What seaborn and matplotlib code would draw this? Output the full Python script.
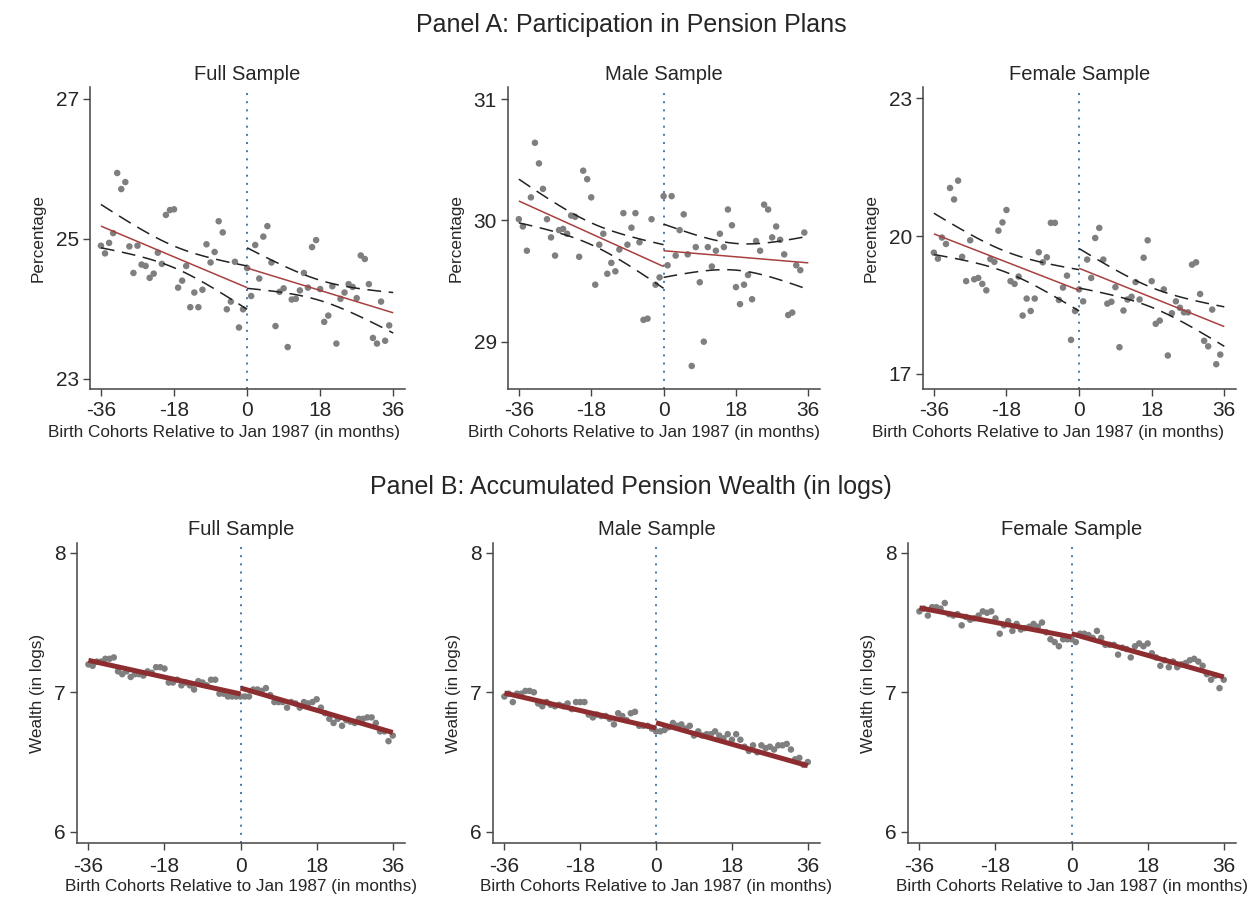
import numpy as np
import pandas as pd
import matplotlib
matplotlib.use("Agg")
import matplotlib.pyplot as plt
import seaborn as sns

# ---------------- data ----------------
x_left = list(range(-36, 0))          # 36 cohorts before cutoff
x_right_a = list(range(0, 36))        # panel A, after cutoff
x_right_b = list(range(0, 37))        # panel B, after cutoff

# Panel A: participation (%)
full_a_left = [24.90, 24.79, 24.94, 25.08, 25.94, 25.71, 25.81, 24.89, 24.51, 24.90,
               24.63, 24.61, 24.44, 24.50, 24.80, 24.64, 25.34, 25.41, 25.42, 24.30,
               24.40, 24.61, 24.02, 24.23, 24.02, 24.27, 24.92, 24.66, 24.81, 25.25,
               25.09, 23.99, 24.10, 24.67, 23.73, 23.99]
full_a_right = [24.58, 24.18, 24.91, 24.43, 25.03, 25.18, 24.66, 23.75, 24.24, 24.29,
                23.45, 24.13, 24.14, 24.26, 24.51, 24.30, 24.88, 24.98, 24.28, 23.81,
                23.90, 24.32, 23.50, 24.14, 24.23, 24.35, 24.31, 24.15, 24.76, 24.71,
                24.35, 23.58, 23.50, 24.10, 23.54, 23.76]

male_a_left = [30.01, 29.95, 29.75, 30.19, 30.64, 30.47, 30.26, 30.01, 29.86, 29.71,
               29.92, 29.93, 29.89, 30.04, 30.03, 29.70, 30.41, 30.34, 30.19, 29.47,
               29.80, 29.89, 29.56, 29.65, 29.58, 29.76, 30.06, 29.80, 29.94, 30.06,
               29.82, 29.18, 29.19, 30.01, 29.47, 29.53]
male_a_right = [30.20, 29.63, 30.20, 29.71, 29.92, 30.05, 29.72, 28.80, 29.78, 29.49,
                29.00, 29.78, 29.62, 29.75, 29.89, 29.78, 30.09, 29.96, 29.45, 29.31,
                29.47, 29.55, 29.35, 29.83, 29.75, 30.13, 30.09, 29.86, 29.95, 29.84,
                29.72, 29.22, 29.24, 29.63, 29.59, 29.90]

female_a_left = [19.64, 19.51, 19.97, 19.83, 21.05, 20.80, 21.21, 19.55, 19.02, 19.91,
                 19.06, 19.09, 18.96, 18.82, 19.50, 19.44, 20.12, 20.30, 20.57, 19.02,
                 18.96, 19.12, 18.27, 18.64, 18.37, 18.64, 19.65, 19.43, 19.54, 20.29,
                 20.29, 18.61, 18.88, 19.14, 17.74, 18.37]
female_a_right = [18.84, 18.58, 19.49, 19.09, 19.96, 20.18, 19.49, 18.53, 18.57, 18.89,
                  17.58, 18.38, 18.62, 18.68, 19.00, 18.62, 19.53, 19.91, 19.02, 18.09,
                  18.16, 18.84, 17.40, 18.32, 18.58, 18.44, 18.34, 18.34, 19.38, 19.43,
                  18.74, 17.72, 17.60, 18.40, 17.21, 17.42]

# Panel B: pension wealth (logs)
full_b_left = [7.20, 7.19, 7.22, 7.22, 7.24, 7.24, 7.25, 7.15, 7.13, 7.15,
               7.11, 7.13, 7.13, 7.12, 7.15, 7.14, 7.18, 7.18, 7.17, 7.07,
               7.07, 7.09, 7.05, 7.07, 7.05, 7.02, 7.08, 7.07, 7.05, 7.09,
               7.09, 6.99, 6.99, 6.97, 6.97, 6.97]
full_b_right = [6.97, 6.97, 6.97, 7.02, 7.02, 7.01, 7.03, 6.98, 6.93, 6.93,
                6.93, 6.89, 6.93, 6.92, 6.89, 6.93, 6.92, 6.93, 6.95, 6.89,
                6.85, 6.81, 6.78, 6.81, 6.76, 6.80, 6.79, 6.78, 6.81, 6.81,
                6.82, 6.82, 6.78, 6.72, 6.72, 6.65, 6.69]

male_b_left = [6.97, 6.99, 6.93, 6.99, 6.99, 7.01, 7.01, 7.00, 6.92, 6.90,
               6.93, 6.91, 6.90, 6.91, 6.90, 6.92, 6.88, 6.93, 6.93, 6.93,
               6.84, 6.82, 6.84, 6.83, 6.83, 6.81, 6.77, 6.85, 6.83, 6.80,
               6.85, 6.86, 6.76, 6.76, 6.76, 6.74]
male_b_right = [6.72, 6.72, 6.73, 6.75, 6.78, 6.76, 6.77, 6.74, 6.76, 6.69,
                6.72, 6.69, 6.70, 6.70, 6.72, 6.69, 6.67, 6.70, 6.66, 6.70,
                6.66, 6.61, 6.58, 6.62, 6.57, 6.62, 6.60, 6.61, 6.59, 6.62,
                6.62, 6.63, 6.59, 6.52, 6.53, 6.48, 6.50]

female_b_left = [7.58, 7.60, 7.55, 7.61, 7.61, 7.60, 7.64, 7.56, 7.55, 7.56,
                 7.48, 7.54, 7.52, 7.53, 7.55, 7.58, 7.57, 7.58, 7.53, 7.42,
                 7.48, 7.51, 7.44, 7.49, 7.45, 7.46, 7.47, 7.49, 7.47, 7.50,
                 7.43, 7.38, 7.36, 7.33, 7.38, 7.38]
female_b_right = [7.38, 7.36, 7.42, 7.42, 7.41, 7.39, 7.44, 7.39, 7.34, 7.34,
                  7.34, 7.27, 7.32, 7.31, 7.25, 7.33, 7.35, 7.33, 7.35, 7.28,
                  7.25, 7.19, 7.23, 7.18, 7.22, 7.18, 7.20, 7.21, 7.23, 7.24,
                  7.22, 7.19, 7.13, 7.09, 7.12, 7.03, 7.09]

# fitted lines: (value at start, value at end) per side
fit_a = [((25.18, 24.30), (24.58, 23.94)),
         ((30.16, 29.62), (29.75, 29.65)),
         ((20.05, 18.82), (19.30, 18.03))]
# 95% CI half-width at the ends of each side
ci_a = [(0.31, 0.29), (0.18, 0.22), (0.45, 0.43)]
fit_b = [((7.229, 6.988), (7.031, 6.712)),
         ((6.995, 6.744), (6.782, 6.474)),
         ((7.605, 7.397), (7.420, 7.110))]

subtitles = ["Full Sample", "Male Sample", "Female Sample"]
panel_titles = ["Panel A: Participation in Pension Plans",
                "Panel B: Accumulated Pension Wealth (in logs)"]
xticks = [-36, -18, 0, 18, 36]
xlabel = "Birth Cohorts Relative to Jan 1987 (in months)"
ylabels = ["Percentage", "Wealth (in logs)"]
yticks_a = [[23, 25, 27], [29, 30, 31], [17, 20, 23]]
ylims_a = [(22.85, 27.17), (28.61, 31.10), (16.67, 23.25)]
yticks_b = [6, 7, 8]
ylim_b = (5.92, 8.07)

# ---------------- style ----------------
sns.set_style("ticks")
plt.rcParams["font.family"] = ["Liberation Sans", "DejaVu Sans"]

DOT = "#7f7f7f"
RED_A = "#a8403f"
RED_B = "#8e2d2f"
VLINE = "#4f76a3"

W, H = 1253, 909
fig = plt.figure(figsize=(W / 100, H / 100), dpi=100)

# axes boxes in pixels: (left, top, right, bottom)
boxes_a = [(90, 87, 405, 389), (508, 87, 820, 389), (923, 87, 1236, 389)]
boxes_b = [(77, 543, 405, 843), (493, 543, 820, 843), (908, 543, 1236, 843)]
# horizontal shift (px) of the x-axis title relative to the axes centre
xlab_shift_a = [-23, -20, -32]
xlab_shift_b = [0, 0, 0]


def make_ax(box):
    l, t, r, b = box
    return fig.add_axes([l / W, 1 - b / H, (r - l) / W, (b - t) / H])


panel_a = [(full_a_left, full_a_right), (male_a_left, male_a_right),
           (female_a_left, female_a_right)]
panel_b = [(full_b_left, full_b_right), (male_b_left, male_b_right),
           (female_b_left, female_b_right)]


def line_and_band(lo, hi, v0, v1, hw):
    g = np.linspace(lo, hi, 60)
    yh = v0 + (v1 - v0) * (g - lo) / (hi - lo)
    u = (g - (lo + hi) / 2) / ((hi - lo) / 2)
    band = None
    if hw is not None:
        band = hw * np.sqrt((1 + 3 * u ** 2) / 4)
    return g, yh, band


def draw(ax, box, yl, yr, xr, fits, cis, red, lw_red, ylim, yticks, ylab,
         title, tpad, xpad, xshift, xlab_y):
    df = pd.DataFrame({"x": x_left + xr, "y": yl + yr})
    sns.scatterplot(data=df, x="x", y="y", ax=ax, color=DOT, s=22,
                    edgecolor="none", zorder=3)
    ax.axvline(0, color=VLINE, lw=1.4, linestyle=(0, (1, 3.2)), zorder=1)
    for (lo, hi), (v0, v1), hw in zip([(-36, 0), (0, 36)], fits, cis):
        g, yh, band = line_and_band(lo, hi, v0, v1, hw)
        if band is not None:
            for c in (yh - band, yh + band):
                ax.plot(g, c, color="#222222", lw=1.1,
                        linestyle=(0, (9, 5)), zorder=4)
        ax.plot(g, yh, color=red, lw=lw_red, zorder=5,
                solid_capstyle="butt")
    ax.set_xlim(-38.7, 38.9)
    ax.set_ylim(*ylim)
    ax.set_xticks(xticks)
    ax.set_xticklabels([str(v) for v in xticks])
    ax.set_yticks(yticks)
    ax.set_yticklabels([str(v) for v in yticks])
    ax.tick_params(axis="both", labelsize=15, length=5, width=1,
                   color="#444444", pad=3)
    ax.tick_params(axis="x", pad=xpad)
    ax.set_xlabel(xlabel, fontsize=12.3)
    l, t, r, b = box
    ax.xaxis.set_label_coords(0.5 + xshift / (r - l), -xlab_y / (b - t))
    ax.xaxis.label.set_va("center")
    ax.set_ylabel(ylab, fontsize=12.3, labelpad=7)
    ax.set_title(title, fontsize=14.5, pad=tpad)
    for s in ("top", "right"):
        ax.spines[s].set_visible(False)
    for s in ("left", "bottom"):
        ax.spines[s].set_color("#444444")
        ax.spines[s].set_linewidth(1.1)


for i, box in enumerate(boxes_a):
    ax = make_ax(box)
    yl, yr = panel_a[i]
    draw(ax, box, yl, yr, x_right_a, fit_a[i], ci_a[i], RED_A, 1.1,
         ylims_a[i], yticks_a[i], ylabels[0], subtitles[i], 5, 4,
         xlab_shift_a[i], 44)

for i, box in enumerate(boxes_b):
    ax = make_ax(box)
    yl, yr = panel_b[i]
    draw(ax, box, yl, yr, x_right_b, fit_b[i], (None, None), RED_B, 3.6,
         ylim_b, yticks_b, ylabels[1], subtitles[i], 6, 5,
         xlab_shift_b[i], 43)

fig.text(631 / W, 1 - 25 / H, panel_titles[0], ha="center", va="center",
         fontsize=18)
fig.text(631 / W, 1 - 487 / H, panel_titles[1], ha="center", va="center",
         fontsize=18)

fig.savefig("out.png", dpi=100, facecolor="white")
